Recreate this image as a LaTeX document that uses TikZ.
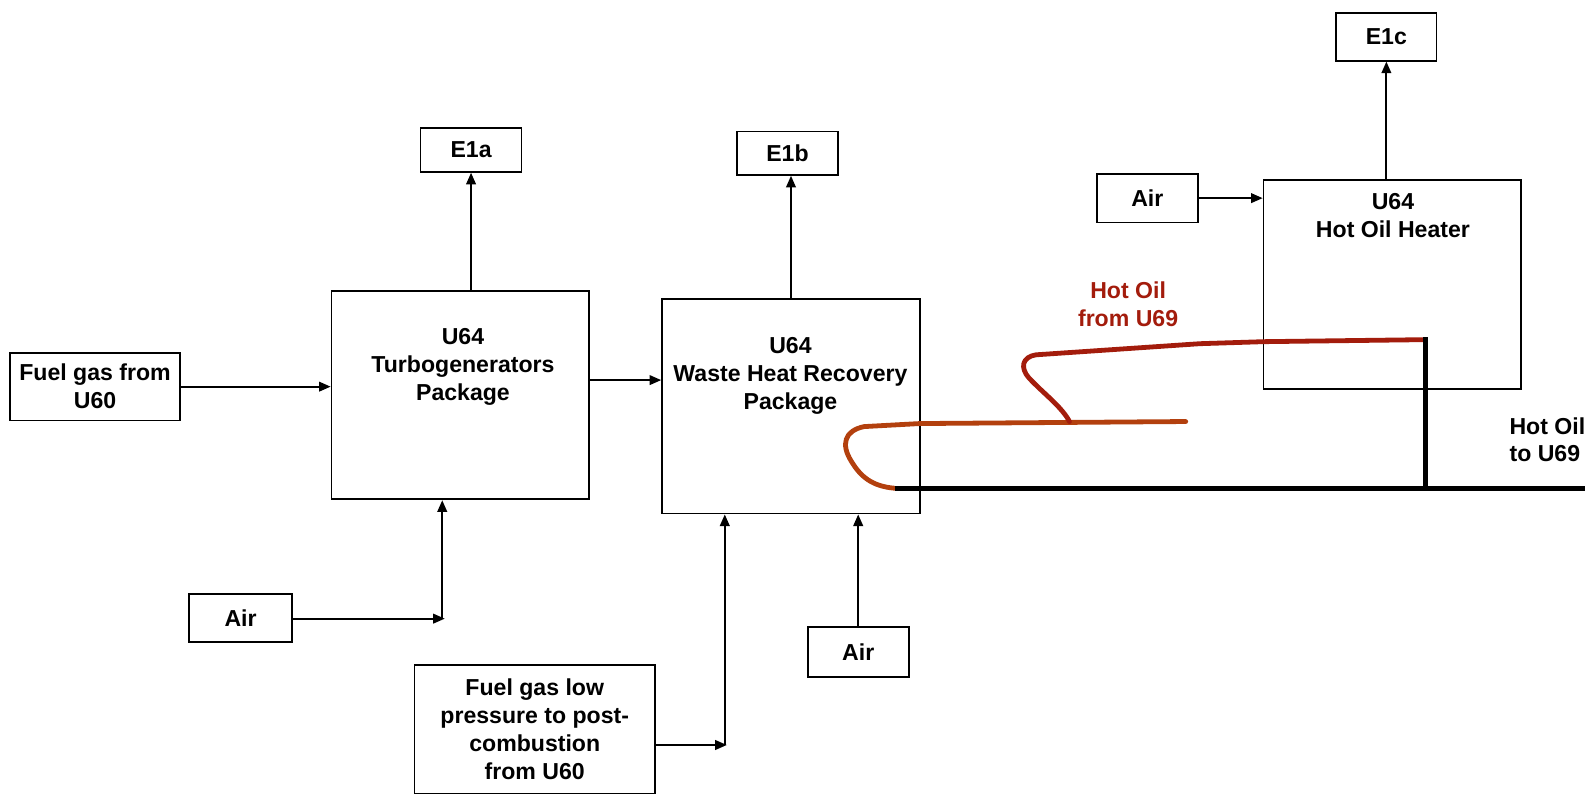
\documentclass[tikz,border=0pt]{standalone}
\usepackage{fontspec}
\setmainfont{Liberation Sans}
\usetikzlibrary{arrows.meta,calc}
\definecolor{hotred}{HTML}{A31C0C}
\definecolor{hotorange}{HTML}{B3400E}
\newcommand\mkbox[6]{\node[box,minimum width={(#4-#2)*0.02cm},minimum height={(#5-#3)*0.02cm}] (#1) at ({(#2+#4)/2},{(#3+#5)/2}) {#6};}
\begin{document}
\begin{tikzpicture}[x=0.02cm,y=-0.02cm,
  box/.style={draw=black,line width=1pt,inner sep=0pt,fill=white,align=center,font=\fontsize{13}{15.7}\selectfont\bfseries},
  lbl/.style={font=\fontsize{13}{15.7}\selectfont\bfseries,align=center,inner sep=0pt},
  arr/.style={line width=1.1pt,-{Triangle[length=0.23cm,width=0.19cm]}},
  pipe/.style={line width=2.9pt,black},
  redpipe/.style={line width=2.7pt,line cap=round,line join=round}]
\useasboundingbox (0,0) rectangle (1568,788);
\begin{scope}
\clip (0,0) rectangle (1568,788);
% boxes
\mkbox{e1a}{416}{127}{516}{170}{E1a}
\mkbox{e1b}{729}{130}{829}{173}{E1b}
\mkbox{e1c}{1322}{13}{1421}{60}{E1c}
\mkbox{fuel}{10}{349}{178}{416}{Fuel gas from\\U60}
\mkbox{turbo}{328}{288}{583}{494}{}
\mkbox{airA}{187}{588}{289}{635}{Air}
\mkbox{whr}{655}{296}{910}{508}{}
\mkbox{airB}{799}{620}{899}{670}{Air}
\mkbox{fuellow}{410}{658}{648}{785}{Fuel gas low\\pressure to post-\\combustion\\from U60}
\mkbox{airC}{1085}{172}{1185}{220}{Air}
\mkbox{heater}{1250}{178}{1505}{385}{}
% box texts
\node[lbl] (turbotxt) at (458,363) {U64\\Turbogenerators\\Package};
\node[lbl] (whrtxt) at (782,372) {U64\\Waste Heat Recovery\\Package};
\node[lbl] (heatertxt) at (1378,213) {U64\\Hot Oil Heater};
\node[lbl,text=hotred] (hotin) at (1116,301) {Hot Oil\\from U69};
\node[lbl,anchor=west,align=left] (hotout) at (1493,435) {Hot Oil\\to U69};
% coordinates
\coordinate (jA) at (440,612);
\coordinate (jB) at (719,737);
\coordinate (k1) at (885,483);
\coordinate (k2) at (1570,483);
\coordinate (k3) at (1410,336);
\coordinate (redend) at (1173,417);
\coordinate (redjoin) at (1058,417);
% arrows
\draw[arr] (turbo.north -| e1a.south) -- (e1a.south);
\draw[arr] (whr.north) -- (whr.north |- e1b.south);
\draw[arr] (heater.north -| e1c.south) -- (e1c.south);
\draw[arr] (fuel.east) -- (fuel.east -| turbo.west);
\draw[arr] (airA.east |- jA) -- (jA);
\draw[arr] ([xshift=-0.05cm]jA) -- ([xshift=-0.05cm]jA |- turbo.south);
\draw[arr] ([yshift=0.3cm]turbo.east) -- ([yshift=0.3cm]turbo.east -| whr.west);
\draw[arr] (fuellow.east |- jB) -- (jB);
\draw[arr] ([xshift=-0.04cm]jB) -- ([xshift=-0.04cm]jB |- whr.south);
\draw[arr] (airB.north) -- (airB.north |- whr.south);
\draw[arr] (airC.east) -- (airC.east -| heater.west);
% hot oil pipes
\draw[redpipe,hotorange] (redend) -- (910,419) -- (855,422)
  .. controls (835,426) and (832,440) .. (842,456)
  .. controls (851,471) and (862,481) .. (k1);
\draw[redpipe,hotred] (k3) -- (1250,338) -- (1187,340) -- (1025,351)
  .. controls (1011,353) and (1009,364) .. (1018,374)
  .. controls (1032,389) and (1050,402) .. (redjoin);
\draw[pipe] (k1) -- (k2);
\draw[pipe,line cap=rect] (k3) -- (k3 |- k1);
\end{scope}
\end{tikzpicture}
\end{document}
